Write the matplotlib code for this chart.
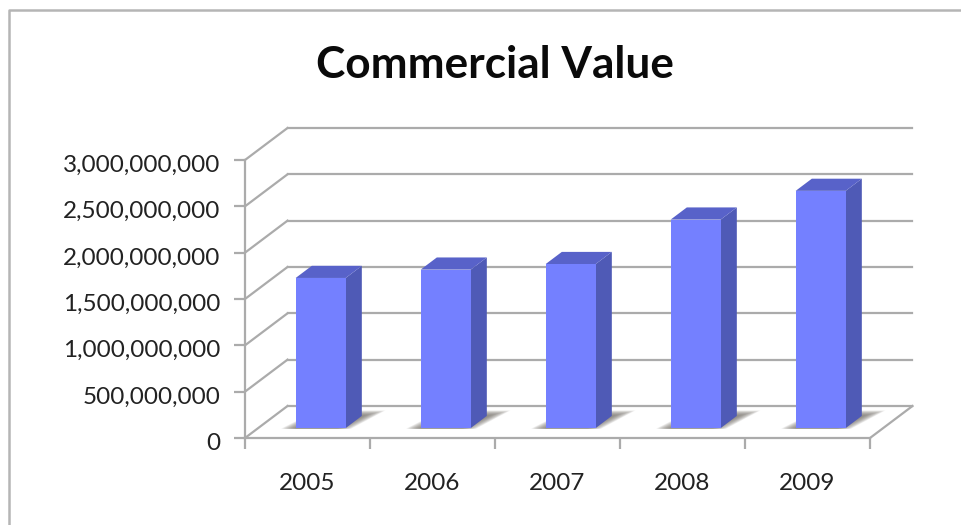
import matplotlib
matplotlib.use("Agg")
import matplotlib.pyplot as plt
from matplotlib.lines import Line2D
from matplotlib.patches import Polygon
from matplotlib.ticker import FuncFormatter
from matplotlib.transforms import ScaledTranslation

# Chart data
years = ["2005", "2006", "2007", "2008", "2009"]
commercial_value = [1.62e9, 1.71e9, 1.77e9, 2.25e9, 2.56e9]
y_ticks = [0, 5e8, 1e9, 1.5e9, 2e9, 2.5e9, 3e9]
chart_title = "Commercial Value"

W, H = 962, 525
FRONT = "#7480FF"
SIDE = "#4F5AB6"
TOP = "#5862C9"
AXIS = "#ABABAB"
TEXT = "#222222"
plt.rcParams["font.family"] = ["Lato", "DejaVu Sans"]

fig = plt.figure(figsize=(W / 100, H / 100), dpi=100, facecolor="white")
# plot box: category axis spans 245..870 px, value axis 438..160 px
ax = fig.add_axes([245 / W, 1 - 438 / H, 625 / W, 278 / H], facecolor="none")
ax.set_xlim(0, len(years))
ax.set_ylim(0, 3e9)

# oblique projection offsets, in axis units per unit of depth
DX = 42.5 / 125
DY = 32 / 278 * 3e9


def proj(x, v, d=0.0):
    """Project a category position, value and depth (0 front, 1 back)."""
    return (x + DX * d, v + DY * d)


def face(points, **kw):
    ax.add_patch(Polygon([proj(*p) for p in points], closed=True,
                         clip_on=False, **kw))


# back wall gridlines and the left side wall
for v in y_ticks:
    back_start = proj(0, v, 1)
    back_end = proj(len(years), v, 1)
    ax.plot(*zip(proj(0, v), back_start), color=AXIS, lw=1.6, clip_on=False, zorder=1)
    ax.plot(*zip(back_start, back_end), color=AXIS, lw=1.6, clip_on=False, zorder=1)
# right edge of the floor
ax.plot(*zip(proj(len(years), 0), proj(len(years), 0, 1)), color=AXIS, lw=1.6,
        clip_on=False, zorder=1)

BAR_W = 0.40
D0, D1 = 0.31, 0.69
for i, val in enumerate(commercial_value):
    c = i + 0.5
    x0, x1 = c - BAR_W / 2, c + BAR_W / 2
    # soft floor shadow built from stacked translucent layers, darkest beside the bar
    for k in range(14):
        g = k * 0.0085
        dd = k * 0.012
        face([(x0 - 0.11 + g, 0, 0.29), (x1 + 0.05 - g, 0, 0.29),
              (x1 + 0.13 - g, 0, 0.86 - dd), (x0 - 0.02 + g, 0, 0.86 - dd)],
             facecolor="#77746C", edgecolor="none", alpha=0.10, zorder=2)
    face([(x0, 0, D0), (x1, 0, D0), (x1, val, D0), (x0, val, D0)],
         facecolor=FRONT, edgecolor="none", zorder=5)
    face([(x1, 0, D0), (x1, 0, D1), (x1, val, D1), (x1, val, D0)],
         facecolor=SIDE, edgecolor="none", zorder=4)
    face([(x0, val, D0), (x1, val, D0), (x1, val, D1), (x0, val, D1)],
         facecolor=TOP, edgecolor="none", zorder=4)

# axes, ticks and labels
for name in ("top", "right"):
    ax.spines[name].set_visible(False)
for name in ("left", "bottom"):
    ax.spines[name].set_color(AXIS)
    ax.spines[name].set_linewidth(1.6)
    ax.spines[name].set_zorder(6)

ax.set_yticks(y_ticks)
ax.yaxis.set_major_formatter(FuncFormatter(lambda v, _: f"{v:,.0f}"))
ax.set_xticks(range(len(years) + 1))
ax.set_xticklabels([""] * (len(years) + 1))
ax.tick_params(axis="both", color=AXIS, width=1.6, length=8, labelcolor=TEXT)
ax.tick_params(axis="y", labelsize=17.5, pad=9.5)
# nudge the value labels slightly below their ticks
for lab in ax.get_yticklabels():
    lab.set_transform(lab.get_transform() + ScaledTranslation(0, -3.5 / 100, fig.dpi_scale_trans))
for i, year in enumerate(years):
    ax.annotate(year, xy=(i + 0.5, 0), xycoords=("data", "axes fraction"),
                xytext=(0, -46), textcoords="offset pixels", ha="center", va="center",
                fontsize=17.5, color=TEXT)

fig.text(495 / W, 1 - 65 / H, chart_title, ha="center", va="center",
         fontsize=31.8, fontweight="bold", color="#0A0A0A")

# outer chart frame, open to the right and bottom
fig.add_artist(Line2D([9 / W, 9 / W, 1], [0, 1 - 10 / H, 1 - 10 / H],
                      color="#B5B5B5", lw=1.8, transform=fig.transFigure))

fig.savefig("out.png", dpi=100, facecolor="white")
